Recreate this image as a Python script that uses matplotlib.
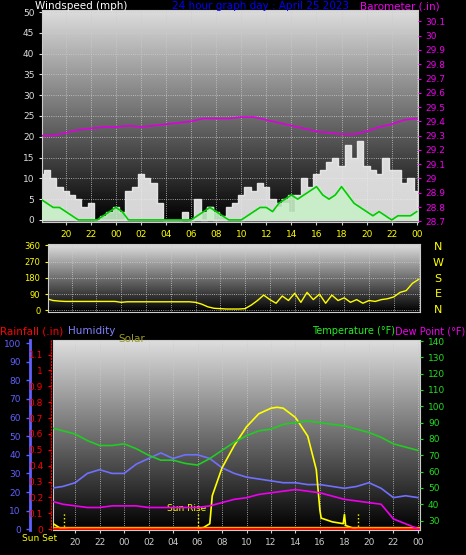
import numpy as np
import matplotlib
matplotlib.use("Agg")
import matplotlib.pyplot as plt

# ---------------- data ----------------
wind_t = [18 + 0.5 * i for i in range(61)]
gust = [11, 12, 10, 8, 7, 6, 5, 3, 4, 0, 0, 0, 0, 0, 7, 8, 11, 10, 9, 4,
        0, 0, 0, 2, 0, 5, 0, 3, 0, 0, 3, 4, 6, 8, 7, 9, 8, 5, 3, 4,
        2, 6, 10, 8, 11, 12, 14, 15, 13, 18, 15, 19, 13, 12, 11, 15, 12, 12, 9, 10,
        7]
avg = [5, 4, 3, 3, 2, 1, 0, 0, 0, 0, 1, 2, 3, 2, 0, 0, 0, 0, 0, 0,
       0, 0, 0, 0, 0, 1, 2, 3, 2, 1, 0, 0, 0, 1, 2, 3, 3, 2, 4, 5,
       6, 5, 6, 7, 8, 6, 5, 6, 8, 6, 4, 3, 2, 1, 2, 1, 0, 1, 1, 1,
       2]
baro_t = list(range(18, 49))
baro = [29.30, 29.30, 29.32, 29.34, 29.35, 29.36, 29.36, 29.37, 29.36, 29.37, 29.38,
        29.39, 29.40, 29.42, 29.42, 29.42, 29.43, 29.43, 29.41, 29.39, 29.37, 29.35,
        29.33, 29.32, 29.31, 29.31, 29.33, 29.36, 29.38, 29.41, 29.42]

dir_t = [18 + 0.5 * i for i in range(61)]
wdir = [65, 55, 52, 50, 50, 50, 50, 50, 50, 50, 50, 50, 45, 48, 48, 48, 48, 48, 48, 48,
        48, 48, 48, 48, 45, 35, 20, 12, 10, 8, 8, 8, 10, 30, 55, 85, 60, 40, 80, 55,
        95, 45, 100, 60, 90, 40, 85, 55, 70, 45, 60, 40, 55, 50, 60, 65, 75, 100, 110, 150,
        172]

temp_t = list(range(18, 49))
temp = [87, 85, 83, 79, 76, 76, 77, 74, 70, 67, 67, 65, 64, 68, 73, 78, 82, 85, 86, 89,
        90, 91, 90, 89, 88, 86, 84, 81, 77, 75, 73]
humid = [22, 23, 25, 30, 32, 30, 30, 35, 38, 41, 38, 40, 40, 38, 33, 30, 28, 27, 26, 25,
         25, 24, 24, 23, 22, 23, 25, 22, 17, 18, 17]
dew = [42, 40, 39, 38, 38, 39, 39, 39, 38, 38, 38, 38, 38, 39, 41, 43, 44, 46, 47, 48,
       49, 48, 47, 45, 43, 42, 41, 40, 31, 28, 25]
solar_t = [18.2, 18.8, 19.5, 29.9, 30.5, 31.0, 31.2, 32, 33, 34, 35, 36, 36.5, 37, 38, 39, 39.7, 40.0, 40.1, 41, 41.9, 42.0, 42.1, 43, 48.2]
solar = [3, 0.5, 0, 0, 1, 3, 18, 33, 45, 55, 62, 65, 65.5, 65, 60, 50, 32, 10, 6, 4, 3, 8, 2, 0, 0]
sun_lines = [19.1, 30.0, 43.1]

fig = plt.figure(figsize=(4.66, 5.55), dpi=100, facecolor="black")
grad = np.linspace(0, 1, 256).reshape(-1, 1)

def bg(ax):
    ax.set_facecolor("black")
    ax.imshow(grad, aspect="auto", cmap="gray", extent=(*ax.get_xlim(), *ax.get_ylim()),
              origin="lower", vmin=0.0, vmax=1.15, zorder=0)
    ax.grid(True, color="#cccccc", ls=":", lw=0.6)
    for s in ax.spines.values():
        s.set_color("#cccccc")

def hour_labels(ax, color):
    ticks = list(range(20, 49, 2))
    ax.set_xticks(ticks)
    ax.set_xticklabels(["%02d" % (t % 24) for t in ticks], color=color, fontsize=6.5)

# ---------------- top ----------------
ax1 = fig.add_axes([0.090, 0.600, 0.807, 0.382])
ax1.set_xlim(18.1, 48.1); ax1.set_ylim(-0.5, 50.5)
bg(ax1)
ax1.set_yticks(range(0, 51, 5))
ax1.tick_params(axis="y", colors="#dddddd", labelsize=6.5, length=2)
ax1.tick_params(axis="x", colors="#cccccc", length=2)
hour_labels(ax1, "yellow")
ax1.fill_between(wind_t, gust, step="mid", color="#eeeeee", alpha=0.9, zorder=2)
ax1.fill_between(wind_t, avg, step="mid", color="#c8f0c8", alpha=0.9, zorder=3)
ax1.plot(wind_t, avg, color="#00cc00", lw=1.2, zorder=4)
ax1.axhline(0, color="#dddddd", lw=1, zorder=3)
axb = ax1.twinx()
axb.set_ylim(28.7 - 0.005, 30.18)
axb.plot(baro_t, baro, color="#dd00dd", lw=1.2)
axb.set_yticks([round(28.7 + 0.1 * i, 1) for i in range(15)])
axb.set_yticklabels(["%g" % round(28.7 + 0.1 * i, 1) for i in range(15)])
axb.tick_params(colors="#ee00ee", labelsize=6.5, length=2)
for s in axb.spines.values():
    s.set_visible(False)
fig.text(0.075, 0.998, "Windspeed (mph)", color="white", fontsize=7.5, ha="left", va="top")
fig.text(0.37, 0.998, "24 hour graph day : April 25 2023", color="#0000ff", fontsize=7.5, ha="left", va="top")
fig.text(0.943, 0.998, "Barometer (.in)", color="#ee00ee", fontsize=7.5, ha="right", va="top")

# ---------------- middle ----------------
ax2 = fig.add_axes([0.103, 0.438, 0.798, 0.1225])
ax2.set_xlim(18.1, 48.1); ax2.set_ylim(-8, 368)
bg(ax2)
ax2.set_yticks([0, 90, 180, 270, 360])
ax2.tick_params(axis="y", colors="yellow", labelsize=6, length=2)
ax2.set_xticks(range(20, 49, 2)); ax2.set_xticklabels([])
ax2.tick_params(axis="x", length=0)
ax2.plot(dir_t, wdir, color="yellow", lw=1)
for i, c in enumerate(["N", "W", "S", "E", "N"]):
    fig.text(0.94, 0.555 - i * 0.0285, c, color="yellow", fontsize=8, ha="center", va="center")

# ---------------- bottom ----------------
ax3 = fig.add_axes([0.114, 0.045, 0.788, 0.342])
ax3.set_xlim(18.2, 48.2); ax3.set_ylim(-0.4, 101.5)
bg(ax3)
hour_labels(ax3, "yellow")
ax3.tick_params(axis="x", colors="#cccccc", length=2)
ax3.set_yticks([])
ax3.text(-0.085, -0.045, "Sun Set", color="yellow", fontsize=6.5, va="center",
         transform=ax3.transAxes)
ax3.plot(temp_t, humid, color="#7070ff", lw=1.2, zorder=3)
ax3.plot(solar_t, solar, color="yellow", lw=1.2, zorder=4)
for x in sun_lines:
    ax3.axvline(x, ymax=0.09, color="yellow", ls=":", lw=1, zorder=4)
ax3.text(27.5, 11, "Sun Rise", color="yellow", fontsize=6.5, va="center", zorder=5)
ax3.axhline(0.4, color="red", lw=1.8, zorder=5)
ax3.axhline(1.3, color="orange", lw=1, zorder=5)

axh = fig.add_axes([0.064, 0.045, 0.001, 0.342])
axh.set_ylim(-0.4, 101.5)
axh.set_xticks([]); axh.set_yticks(range(0, 101, 10))
axh.tick_params(colors="#6060ff", labelsize=6.5, length=3, width=1)
for s in axh.spines.values(): s.set_visible(False)
axh.spines["right"].set_visible(True); axh.spines["right"].set_color("#6060ff"); axh.spines["right"].set_linewidth(2)
axh.yaxis.tick_left()

axr = fig.add_axes([0.109, 0.045, 0.001, 0.342])
axr.set_ylim(-0.005, 1.19)
axr.set_xticks([]); axr.set_yticks([round(0.1 * i, 1) for i in range(12)])
axr.set_yticklabels(["0"] + ["%g" % round(0.1 * i, 1) for i in range(1, 12)])
axr.tick_params(colors="red", labelsize=6.5, length=2)
for s in axr.spines.values(): s.set_visible(False)
axr.spines["right"].set_visible(True); axr.spines["right"].set_color("red"); axr.spines["right"].set_linestyle(":")

axt = ax3.twinx()
axt.set_ylim(24.2, 140.5)
axt.plot(temp_t, temp, color="#22cc22", lw=1.2)
axt.plot(temp_t, dew, color="#ee00ee", lw=1.2)
axt.set_yticks(range(30, 141, 10))
axt.tick_params(colors="#22dd22", labelsize=6.5, length=2)
for s in axt.spines.values(): s.set_visible(False)

fig.text(0.0, 0.403, "Rainfall (.in)", color="red", fontsize=7.5, va="center")
fig.text(0.145, 0.403, "Humidity", color="#8080ff", fontsize=7.5, va="center")
fig.text(0.255, 0.39, "Solar", color="#999922", fontsize=7.5, va="center")
fig.text(0.67, 0.403, "Temperature (°F)", color="#22ee22", fontsize=7, va="center")
fig.text(0.998, 0.403, "Dew Point (°F)", color="#ee00ee", fontsize=7, va="center", ha="right")

fig.savefig("out.png", dpi=100, facecolor="black")
